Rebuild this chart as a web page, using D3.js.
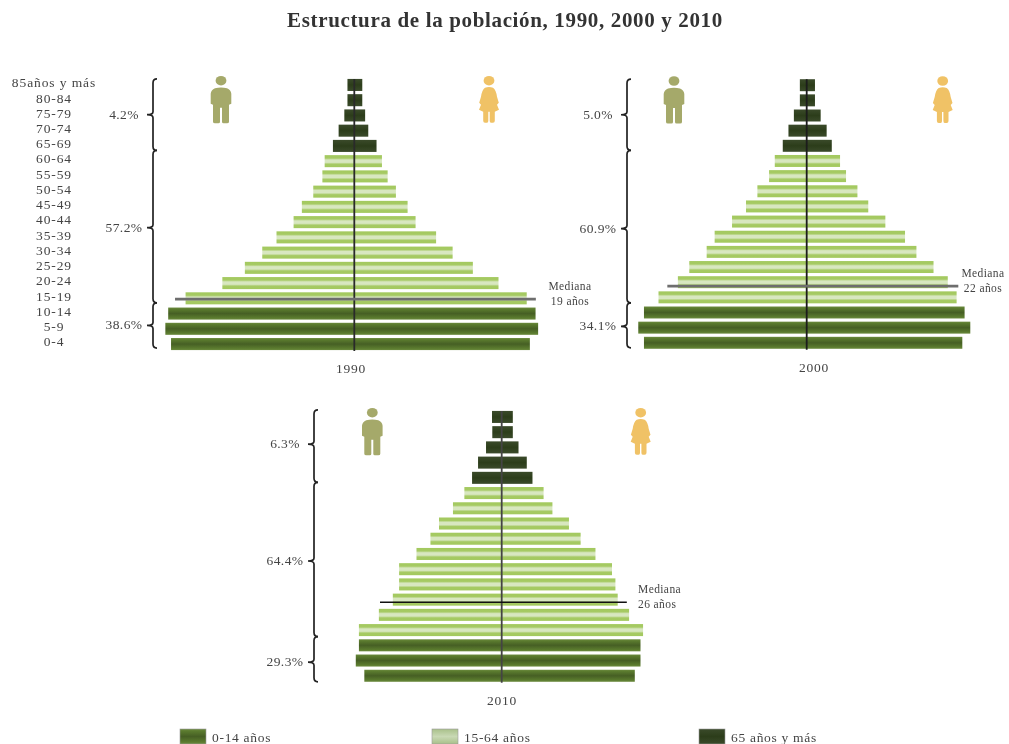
<!DOCTYPE html>
<html lang="es">
<head>
<meta charset="utf-8">
<title>Estructura de la población</title>
<script src="https://cdn.jsdelivr.net/npm/d3@7"></script>
<style>
  html, body { margin: 0; padding: 0; background: #fff; overflow: hidden; }
  svg { display: block; filter: blur(0.55px); }
  text { font-family: "Liberation Serif", serif; fill: #444; }
</style>
</head>
<body>
<svg id="chart" width="1009" height="744"></svg>
<script>
const ages = ['85años y más', '80-84', '75-79', '70-74', '65-69', '60-64', '55-59', '50-54', '45-49',
    '40-44', '35-39', '30-34', '25-29', '20-24', '15-19', '10-14', '5-9', '0-4'];

// percent of population per age group, top row first
const male1990 = [0.24, 0.24, 0.35, 0.55, 0.75, 1.04, 1.12, 1.44, 1.84, 2.13, 2.73, 3.23, 3.84, 4.63, 5.92, 6.53, 6.63, 6.43];
const female1990 = [0.28, 0.28, 0.38, 0.49, 0.78, 0.97, 1.17, 1.46, 1.87, 2.15, 2.87, 3.45, 4.16, 5.06, 6.05, 6.36, 6.45, 6.16];
const male2000 = [0.24, 0.24, 0.45, 0.64, 0.84, 1.12, 1.32, 1.73, 2.13, 2.62, 3.23, 3.51, 4.12, 4.52, 5.2, 5.71, 5.91, 5.71];
const female2000 = [0.29, 0.29, 0.49, 0.7, 0.88, 1.17, 1.38, 1.78, 2.16, 2.76, 3.45, 3.85, 4.45, 4.95, 5.26, 5.54, 5.74, 5.46];
const male2010 = [0.34, 0.33, 0.55, 0.83, 1.04, 1.31, 1.71, 2.2, 2.5, 2.99, 3.6, 3.6, 3.82, 4.31, 5.01, 5.01, 5.12, 4.82];
const female2010 = [0.39, 0.39, 0.59, 0.88, 1.08, 1.47, 1.78, 2.36, 2.77, 3.29, 3.87, 3.99, 4.07, 4.47, 4.96, 4.87, 4.87, 4.67];

const shares1990 = ['4.2%', '57.2%', '38.6%'];
const shares2000 = ['5.0%', '60.9%', '34.1%'];
const shares2010 = ['6.3%', '64.4%', '29.3%'];

const groupNames = ['65 años y más', '15-64 años', '0-14 años'];
const groupFirstRow = [0, 5, 15];
const groupLastRow = [4, 14, 17];
const legendOrder = ['0-14 años', '15-64 años', '65 años y más'];

const svg = d3.select('#chart');
const defs = svg.append('defs');

function addGradient(id, stops) {
    const g = defs.append('linearGradient').attr('id', id).attr('x1', 0).attr('x2', 0).attr('y1', 0).attr('y2', 1);
    stops.forEach(([o, c]) => g.append('stop').attr('offset', o).attr('stop-color', c));
}
addGradient('young', [[0, '#6b8a3e'], [0.15, '#5a7a2e'], [0.5, '#465f24'], [0.85, '#5a7a2e'], [1, '#6b8a3e']]);
addGradient('adult', [[0, '#a3c95e'], [0.25, '#a6ca64'], [0.4, '#d8e7c0'], [0.6, '#d8e7c0'], [0.75, '#a6ca64'], [1, '#a3c95e']]);
addGradient('old', [[0, '#3a4a2a'], [0.5, '#2c3d1a'], [1, '#3a4a2a']]);
addGradient('swatchAdult', [[0, '#a9c08a'], [0.5, '#c9d9b4'], [1, '#a9c08a']]);
const groupFill = { '65 años y más': 'url(#old)', '15-64 años': 'url(#adult)', '0-14 años': 'url(#young)' };

svg.append('text')
    .attr('x', 505)
    .attr('y', 27)
    .attr('text-anchor', 'middle')
    .style('font-size', '21px')
    .style('font-weight', 'bold')
    .style('letter-spacing', '0.65px')
    .style('fill', '#333')
    .text('Estructura de la población, 1990, 2000 y 2010');

// icons are drawn around the head centre
const manPath = 'M-6,7.5 Q0,6 6,7.5 Q10,9 10.3,13 L10.3,23 L8,24 L8,41 Q8,42.5 6,42.5 L2.5,42.5 Q1,42.5 1,41 L1,27 L-1,27 L-1,41 Q-1,42.5 -2.5,42.5 L-6,42.5 Q-8,42.5 -8,41 L-8,24 L-10.3,23 L-10.3,13 Q-10,9 -6,7.5 Z';
const womanPath = 'M-4,7 Q0,5.5 4,7 Q7,9 8,16 L9.8,22 L8,24 L10,29 L5.8,31 L5.8,40 Q5.8,42 4,42 L2,42 Q0.7,42 0.7,40 L0.7,31 L-0.7,31 L-0.7,40 Q-0.7,42 -2,42 L-4,42 Q-5.8,42 -5.8,40 L-5.8,31 L-10,29 L-8,24 L-9.8,22 L-8,16 Q-7,9 -4,7 Z';

function drawIcon(x, y, path, color) {
    const g = svg.append('g').attr('transform', `translate(${x},${y})`).attr('fill', color);
    g.append('ellipse').attr('rx', 5.4).attr('ry', 4.8);
    g.append('path').attr('d', path);
}

// curly brace opening to the right, spine at x, tip pointing left at ym
function bracePath(x, y0, ym, y1) {
    return `M${x + 4},${y0} Q${x},${y0} ${x},${y0 + 4} L${x},${ym - 3} Q${x},${ym} ${x - 6},${ym} Q${x},${ym} ${x},${ym + 3} L${x},${y1 - 4} Q${x},${y1} ${x + 4},${y1}`;
}

function drawPyramid(cfg) {
    const y = d3.scaleBand().domain(ages).range([cfg.top - 7.6, cfg.bottom + 7.6]).paddingInner(0.21).paddingOuter(0.1);
    const xMale = d3.scaleLinear().domain([0, 7]).range([cfg.cx, cfg.cx - 199.5]);
    const xFemale = d3.scaleLinear().domain([0, 7]).range([cfg.cx, cfg.cx + 199.5]);
    const rowGroup = (i) => groupNames[groupFirstRow.findIndex((f, k) => i >= f && i <= groupLastRow[k])];

    const rows = ages.map((age, i) => ({ age, m: cfg.male[i], f: cfg.female[i], group: rowGroup(i) }));
    const bars = svg.append('g');
    bars.selectAll('rect')
        .data(rows)
        .join('rect')
        .attr('x', (d) => xMale(d.m))
        .attr('y', (d) => y(d.age))
        .attr('width', (d) => xFemale(d.f) - xMale(d.m))
        .attr('height', y.bandwidth())
        .attr('fill', (d) => groupFill[d.group]);

    // centre line
    svg.append('line')
        .attr('x1', cfg.cx).attr('x2', cfg.cx)
        .attr('y1', cfg.top - 6).attr('y2', cfg.bottom + 7)
        .attr('stroke', cfg.axisColor).attr('stroke-width', 1.8);

    // median
    const my = y(cfg.medianRow) + y.bandwidth() / 2 + cfg.medianShift;
    svg.append('line')
        .attr('x1', xMale(cfg.medianLeft)).attr('x2', xFemale(cfg.medianRight))
        .attr('y1', my).attr('y2', my)
        .attr('stroke', cfg.medianColor).attr('stroke-width', cfg.medianWidth);
    ['Mediana', cfg.medianLabel].forEach((t, i) => {
        svg.append('text')
            .attr('x', cfg.medianTextX)
            .attr('y', my + cfg.medianTextDy + i * 14.5)
            .attr('text-anchor', cfg.medianAnchor)
            .style('font-size', '11.5px')
            .style('letter-spacing', '0.4px')
            .text(t);
    });

    // braces and shares, the tips are not quite centred in the original
    const spans = groupFirstRow.map((f, k) => {
        const top = k === 0 ? y(ages[0]) - cfg.braceTop : y(ages[f]) - 4.7 + cfg.braceLow * (k === 2 ? 1 : 0);
        const bot = y(ages[groupLastRow[k]]) + y.bandwidth() + (k === 2 ? -2 : -1.5) + cfg.braceLow * (k === 0 ? 0 : 1);
        return { top, bot, mid: (top + bot) / 2 + cfg.tipShift[k], label: cfg.shares[k] };
    });
    svg.append('g').selectAll('path')
        .data(spans)
        .join('path')
        .attr('d', (d) => bracePath(cfg.braceX, d.top, d.mid, d.bot))
        .attr('fill', 'none').attr('stroke', '#222').attr('stroke-width', 1.7);
    svg.append('g').selectAll('text')
        .data(spans)
        .join('text')
        .attr('x', cfg.braceX - 29)
        .attr('y', (d) => d.mid + 4)
        .attr('text-anchor', 'middle')
        .style('font-size', '13.5px')
        .style('letter-spacing', '0.4px')
        .text((d) => d.label);

    svg.append('text')
        .attr('x', cfg.yearX)
        .attr('y', cfg.bottom + 29)
        .attr('text-anchor', 'middle')
        .style('font-size', '13.5px')
        .style('letter-spacing', '0.8px')
        .text(cfg.year);

    drawIcon(cfg.manX, cfg.top - 4.3, manPath, '#a5a96a');
    drawIcon(cfg.womanX, cfg.top - 4.3, womanPath, '#f0c266');

    return y;
}

const y1990 = drawPyramid({
    year: '1990', yearX: 351, male: male1990, female: female1990, shares: shares1990,
    cx: 354.3, top: 85, bottom: 344, braceX: 153, braceTop: 0, braceLow: 0, tipShift: [0, 1, 0], manX: 221, womanX: 489, axisColor: '#2a2a2a',
    medianRow: '15-19', medianShift: 0.7, medianLeft: 6.29, medianRight: 6.37, medianColor: '#6e6e6e', medianWidth: 2.8,
    medianLabel: '19 años', medianTextX: 570, medianTextDy: -9, medianAnchor: 'middle',
});
drawPyramid({
    year: '2000', yearX: 814, male: male2000, female: female2000, shares: shares2000,
    cx: 806.7, top: 85.3, bottom: 342.7, braceX: 627, braceTop: 0, braceLow: 1, tipShift: [0, 2, 1], manX: 674, womanX: 942.7, axisColor: '#1c1c1c',
    medianRow: '20-24', medianShift: 4, medianLeft: 4.89, medianRight: 5.32, medianColor: '#6e6e6e', medianWidth: 2.8,
    medianLabel: '22 años', medianTextX: 983, medianTextDy: -9, medianAnchor: 'middle',
});
drawPyramid({
    year: '2010', yearX: 502, male: male2010, female: female2010, shares: shares2010,
    cx: 501.7, top: 417, bottom: 675.7, braceX: 314, braceTop: 1, braceLow: 2, tipShift: [-2, 1.5, 3], manX: 372.3, womanX: 640.7, axisColor: '#444',
    medianRow: '25-29', medianShift: 2.6, medianLeft: 4.27, medianRight: 4.39, medianColor: '#111', medianWidth: 1.5,
    medianLabel: '26 años', medianTextX: 638, medianTextDy: -9, medianAnchor: 'start',
});

// age labels, only beside the first pyramid
const ageAxis = svg.append('g')
    .attr('transform', 'translate(54,-2)')
    .call(d3.axisLeft(y1990).tickSize(0).tickPadding(0));
ageAxis.select('.domain').remove();
ageAxis.selectAll('text')
    .attr('text-anchor', 'middle')
    .style('font-family', '"Liberation Serif", serif')
    .style('font-size', '13.5px')
    .style('letter-spacing', '0.9px')
    .style('fill', '#444');

// legend, cut by the bottom edge as in the original
const legendFill = { '0-14 años': 'url(#young)', '15-64 años': 'url(#swatchAdult)', '65 años y más': 'url(#old)' };
const legendX = [180, 432, 699];
const legend = svg.append('g').selectAll('g')
    .data(legendOrder)
    .join('g')
    .attr('transform', (d, i) => `translate(${legendX[i]},729)`);
legend.append('rect')
    .attr('width', 26).attr('height', 15)
    .attr('stroke', '#999').attr('stroke-width', 0.6)
    .attr('fill', (d) => legendFill[d]);
legend.append('text')
    .attr('x', 32).attr('y', 13)
    .style('font-size', '13.5px')
    .style('letter-spacing', '0.7px')
    .text((d) => d);
</script>
</body>
</html>
